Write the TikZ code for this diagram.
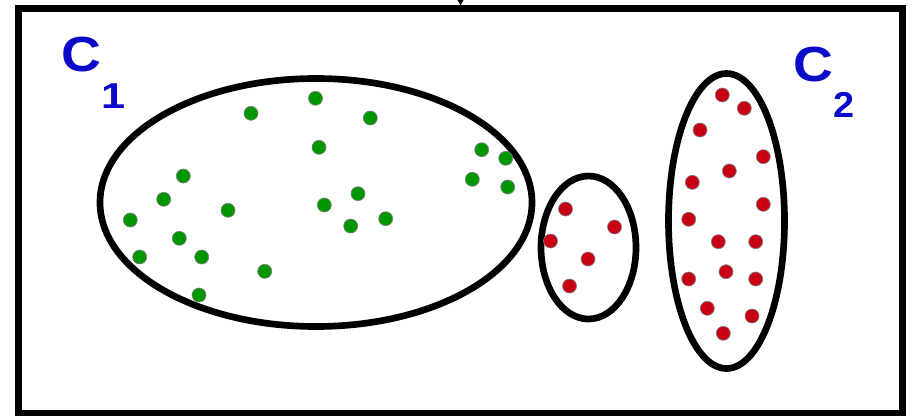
\documentclass[tikz,border=0pt]{standalone}
\usepackage{fontspec}
\setmainfont{Liberation Sans}
\definecolor{lblue}{RGB}{10,10,200}
\definecolor{dgreen}{RGB}{0,150,0}
\definecolor{dred}{RGB}{200,0,20}
\tikzset{
  gdot/.style={circle, fill=dgreen, draw=gray, line width=0.5pt, inner sep=0pt, minimum size=10.5pt},
  rdot/.style={circle, fill=dred, draw=gray, line width=0.5pt, inner sep=0pt, minimum size=10.5pt},
  cluster/.style={draw=black, line width=5pt},
  frame/.style={draw=black, line width=5.25pt},
  biglbl/.style={anchor=base west, inner sep=0pt, text=lblue, font=\bfseries\fontsize{37}{40}\selectfont},
  sublbl/.style={anchor=base west, inner sep=0pt, text=lblue, font=\bfseries\fontsize{27}{30}\selectfont}
}
\begin{document}
\begin{tikzpicture}[x=0.75pt,y=-0.75pt]
\useasboundingbox (0,0) rectangle (912,415);
\fill[white] (0,0) rectangle (912,415);
% frame
\draw[frame] (18.5,8) rectangle (902.5,413.5);
\fill[black] (457.5,0) -- (463.5,0) -- (460.5,5.5) -- cycle;
% clusters
\draw[cluster] (316,202.5) ellipse [x radius=216, y radius=124];
\draw[cluster] (588.5,247.5) ellipse [x radius=47.5, y radius=71.5];
\draw[cluster] (726.5,221) ellipse [x radius=58, y radius=147.5];
% labels
\node[biglbl] (c1) at (61,71.5) {\scalebox{1.12}[1]{C}};
\node[sublbl] (s1) at (101,108) {\scalebox{1.2}[1]{1}};
\node[biglbl] (c2) at (793,81.5) {\scalebox{1.12}[1]{C}};
\node[sublbl] (s2) at (833,117) {\scalebox{1.05}[1]{2}};
% green points
\foreach \x/\y [count=\i] in {251/113.3, 315.5/98.3, 370.3/118, 319/147.3, 481.7/149.7, 505.7/158.3, 472.3/179.3, 507.7/187,
  183.3/176, 163.7/199.3, 228/210.3, 130.3/220, 358/193.7, 324.3/205, 385.7/218.7, 350.7/226,
  179.3/238.3, 139.7/257, 201.7/257, 264.7/271.3, 199/295}
  \node[gdot] (g\i) at (\x,\y) {};
% red points, middle cluster
\foreach \x/\y [count=\i] in {565.5/209, 614.5/227, 550.5/241, 588/259, 569.5/286}
  \node[rdot] (m\i) at (\x,\y) {};
% red points, right cluster
\foreach \x/\y [count=\i] in {722.3/95, 744.3/108.3, 700/130, 763.3/156.7, 729.3/171, 692.3/182.3, 763.3/204.3, 688.7/219.3,
  718.3/241.7, 755.7/241.7, 726/271.7, 688.7/279, 755.7/279, 707.3/308.3, 752/316, 723.3/333.3}
  \node[rdot] (r\i) at (\x,\y) {};
\end{tikzpicture}
\end{document}
